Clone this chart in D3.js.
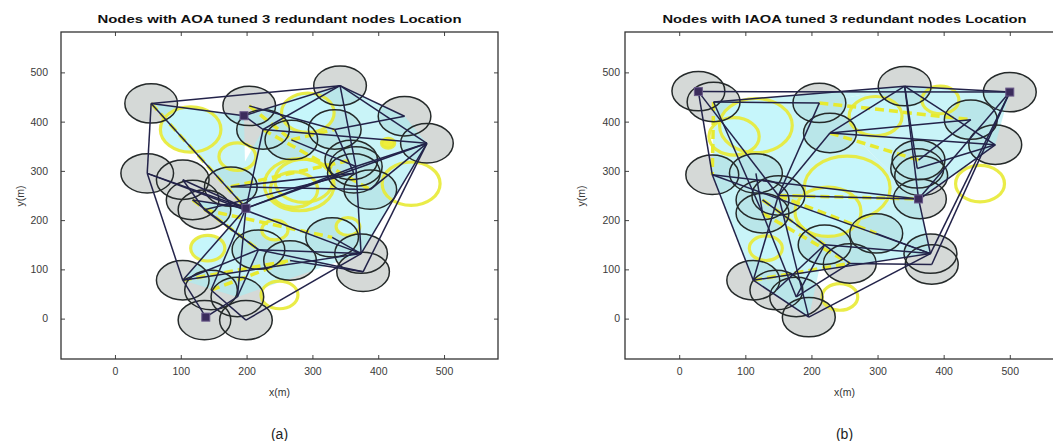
<!DOCTYPE html>
<html>
<head>
<meta charset="utf-8">
<script src="https://cdn.jsdelivr.net/npm/d3@7"></script>
<style>
  body { margin: 0; background: #fff; }
  text { font-family: "Liberation Sans", Arial, sans-serif; }
</style>
</head>
<body>
<svg id="viz" width="1053" height="441"></svg>
<script>
// axis setup (same for both panels)
const xDomain = [-82, 582], yDomain = [-82, 582];
const tickVals = [0, 100, 200, 300, 400, 500];
const sensorR = 40; // coverage radius in m

// ---------- panel (a): AOA ----------
const sensorsA = [
  [55, 437], [342, 473], [204, 432], [225, 384], [440, 411], [474, 356],
  [334, 384], [359, 322], [366, 309], [363, 295], [49, 295], [103, 282],
  [118, 241], [136, 221], [176, 268], [268, 363], [388, 262], [330, 165],
  [266, 118], [103, 78], [146, 58], [186, 44], [136, -3], [199, -3],
  [374, 132], [377, 95], [218, 140]
];
// anchors get indices 27, 28, 29
const anchorsA = [[196, 412], [199, 224], [138, 3]];
const edgesA = [
  [0, 1], [0, 10], [10, 19], [19, 29], [1, 5], [5, 24], [5, 25], [23, 24],
  [0, 28], [0, 27], [27, 1], [27, 3], [1, 3], [1, 8], [1, 4], [10, 28],
  [10, 24], [28, 5], [28, 8], [28, 21], [28, 19], [3, 5], [19, 24], [8, 24],
  [8, 5], [11, 28], [12, 26], [26, 24], [13, 26], [26, 25], [15, 8], [6, 4],
  [14, 9], [11, 13], [3, 28], [17, 24], [16, 5], [2, 6], [12, 28], [14, 16],
  [18, 25], [26, 21], [19, 26], [20, 28], [13, 9], [6, 9], [29, 21], [20, 23]
];
const cyanA = [
  [0, 27, 28], [27, 1, 3], [1, 8, 3], [3, 8, 28], [8, 5, 24], [28, 8, 24],
  [28, 24, 26], [12, 28, 26], [26, 21, 24], [1, 4, 5], [1, 5, 8], [19, 28, 26],
  [19, 26, 21], [14, 28, 3]
];
// redundant / hole circles: x, y, r
const yellowA = [
  [115, 384, 46], [293, 418, 40], [280, 272, 53], [287, 280, 44], [272, 262, 36],
  [450, 274, 44], [415, 356, 10], [250, 48, 28], [243, 180, 20], [141, 143, 26],
  [354, 187, 18], [186, 329, 28]
];
const yellowFillA = [1, 1, 1, 0, 0, 0, 2, 0, 1, 1, 1, 0];
const dashA = [[0, 28], [2, 15], [15, 6], [19, 18], [12, 26], [14, 7], [3, 16], [20, 18], [13, 17]];

// ---------- panel (b): IAOA ----------
const sensorsB = [
  [29, 462], [52, 440], [341, 472], [500, 460], [212, 438], [228, 377],
  [441, 404], [478, 353], [50, 292], [116, 295], [126, 241], [150, 250],
  [126, 214], [362, 322], [360, 305], [366, 290], [364, 243], [298, 173],
  [380, 132], [382, 110], [112, 78], [147, 58], [177, 44], [196, 3],
  [258, 112], [220, 150]
];
// anchors get indices 26, 27, 28
const anchorsB = [[29, 461], [500, 460], [362, 243]];
const edgesB = [
  [26, 27], [1, 2], [2, 27], [26, 8], [8, 20], [20, 23], [23, 18], [18, 27],
  [19, 27], [28, 27], [2, 28], [2, 5], [2, 7], [5, 7], [26, 11], [1, 12],
  [8, 18], [11, 28], [28, 18], [20, 18], [11, 20], [11, 23], [4, 11], [5, 11],
  [1, 4], [2, 14], [14, 7], [5, 6], [9, 12], [25, 18], [25, 22], [10, 24],
  [24, 19], [12, 22], [21, 25], [13, 6], [17, 18], [16, 7], [22, 24], [8, 28]
];
const cyanB = [
  [1, 4, 11], [1, 11, 8], [4, 2, 28], [4, 28, 11], [2, 7, 28], [11, 28, 18],
  [11, 18, 20], [20, 25, 23], [1, 2, 4], [2, 27, 7], [8, 11, 20]
];
const yellowB = [
  [254, 265, 65], [116, 392, 55], [83, 370, 38], [297, 411, 40], [225, 217, 50],
  [395, 444, 28], [455, 274, 37], [243, 44, 27], [131, 143, 25]
];
const yellowFillB = [1, 1, 0, 1, 1, 0, 0, 0, 1];
const dashB = [[1, 8], [11, 17], [20, 24], [5, 13], [10, 25], [12, 24], [4, 6], [11, 16]];

const panels = [
  { id: "a", title: "Nodes with AOA tuned 3 redundant nodes Location", left: 61, right: 498,
    sensors: sensorsA, anchors: anchorsA, edges: edgesA, cyan: cyanA,
    yellow: yellowA, yFill: yellowFillA, dash: dashA, yLabelX: 24, tickPad: 13 },
  { id: "b", title: "Nodes with IAOA tuned 3 redundant nodes Location", left: 625, right: 1064,
    sensors: sensorsB, anchors: anchorsB, edges: edgesB, cyan: cyanB,
    yellow: yellowB, yFill: yellowFillB, dash: dashB, yLabelX: 585, tickPad: 5 }
];

const plotTop = 32, plotBottom = 359;
const svg = d3.select("#viz");

panels.forEach(p => {
  const x = d3.scaleLinear().domain(xDomain).range([p.left, p.right]);
  const y = d3.scaleLinear().domain(yDomain).range([plotBottom, plotTop]);
  const pts = p.sensors.concat(p.anchors);
  const rx = x(sensorR) - x(0), ry = y(0) - y(sensorR);

  svg.append("clipPath").attr("id", "clip" + p.id)
    .append("rect").attr("x", p.left).attr("y", plotTop)
    .attr("width", p.right - p.left).attr("height", plotBottom - plotTop);

  const g = svg.append("g").attr("clip-path", `url(#clip${p.id})`);

  // gray coverage discs (group opacity so overlaps stay flat)
  g.append("g").attr("opacity", 0.36)
    .selectAll("ellipse").data(p.sensors).enter().append("ellipse")
    .attr("cx", d => x(d[0])).attr("cy", d => y(d[1]))
    .attr("rx", rx).attr("ry", ry)
    .attr("fill", "#8e9893");

  // cyan covered triangles
  g.append("g").attr("opacity", 0.62)
    .selectAll("polygon").data(p.cyan).enter().append("polygon")
    .attr("points", d => d.map(i => x(pts[i][0]) + "," + y(pts[i][1])).join(" "))
    .attr("fill", "#a9eef4");

  // yellow redundant circles
  g.selectAll(".yc").data(p.yellow).enter().append("ellipse")
    .attr("cx", d => x(d[0])).attr("cy", d => y(d[1]))
    .attr("rx", d => x(d[2]) - x(0)).attr("ry", d => y(0) - y(d[2]))
    .attr("fill", (d, i) => p.yFill[i] === 1 ? "#c6f6fb" : p.yFill[i] === 2 ? "#eeee3c" : "none")
    .attr("stroke", "#e8ea34").attr("stroke-width", 3.2).attr("stroke-opacity", 0.9);

  // yellow dashed links (drawn under the dark ones)
  g.selectAll(".yd").data(p.dash).enter().append("line")
    .attr("x1", d => x(pts[d[0]][0])).attr("y1", d => y(pts[d[0]][1]))
    .attr("x2", d => x(pts[d[1]][0])).attr("y2", d => y(pts[d[1]][1]))
    .attr("stroke", "#e6ea30").attr("stroke-width", 3.5).attr("stroke-dasharray", "9,5");

  // circle outlines
  g.selectAll(".ring").data(p.sensors).enter().append("ellipse")
    .attr("cx", d => x(d[0])).attr("cy", d => y(d[1]))
    .attr("rx", rx).attr("ry", ry)
    .attr("fill", "none").attr("stroke", "#252a2a").attr("stroke-width", 1.5);

  // links
  g.selectAll(".edge").data(p.edges).enter().append("line")
    .attr("x1", d => x(pts[d[0]][0])).attr("y1", d => y(pts[d[0]][1]))
    .attr("x2", d => x(pts[d[1]][0])).attr("y2", d => y(pts[d[1]][1]))
    .attr("stroke", "#23234a").attr("stroke-width", 1.5);

  // anchor squares
  g.selectAll(".anc").data(p.anchors).enter().append("rect")
    .attr("x", d => x(d[0]) - 4).attr("y", d => y(d[1]) - 4)
    .attr("width", 8).attr("height", 8)
    .attr("fill", "#3b2c5c").attr("stroke", "#6a5a8a").attr("stroke-width", 1);

  // axes, MATLAB-style box with inward ticks
  const fmt = d3.format("d");
  const ax = [
    svg.append("g").attr("transform", `translate(0,${plotBottom})`)
      .call(d3.axisBottom(x).tickValues(tickVals).tickSize(-4).tickPadding(9).tickFormat(fmt)),
    svg.append("g").attr("transform", `translate(0,${plotTop})`)
      .call(d3.axisTop(x).tickValues(tickVals).tickSize(-4).tickFormat("")),
    svg.append("g").attr("transform", `translate(${p.left},0)`)
      .call(d3.axisLeft(y).tickValues(tickVals).tickSize(-4).tickPadding(p.tickPad).tickFormat(fmt)),
    svg.append("g").attr("transform", `translate(${p.right},0)`)
      .call(d3.axisRight(y).tickValues(tickVals).tickSize(-4).tickFormat(""))
  ];
  ax.forEach(a => {
    a.select(".domain").remove();
    a.selectAll("line").attr("stroke", "#444");
    a.selectAll("text").attr("font-size", 10.5).attr("fill", "#3a3a3a")
      .style("font-family", "'Liberation Sans', Arial, sans-serif");
  });

  svg.append("rect").attr("x", p.left).attr("y", plotTop)
    .attr("width", p.right - p.left).attr("height", plotBottom - plotTop)
    .attr("fill", "none").attr("stroke", "#333").attr("stroke-width", 1.3);

  const cx = (p.left + p.right) / 2;
  svg.append("text").attr("x", cx).attr("y", 23).attr("text-anchor", "middle")
    .attr("font-size", 10.5).attr("font-weight", "bold").attr("fill", "#111")
    .attr("textLength", 364).attr("lengthAdjust", "spacingAndGlyphs")
    .text(p.title);

  svg.append("text").attr("x", cx).attr("y", 396).attr("text-anchor", "middle")
    .attr("font-size", 10.5).attr("fill", "#333").text("x(m)");

  svg.append("text").attr("transform", `translate(${p.yLabelX},196) rotate(-90)`)
    .attr("text-anchor", "middle").attr("font-size", 10.5).attr("fill", "#333").text("y(m)");

  svg.append("text").attr("x", cx).attr("y", 439).attr("text-anchor", "middle")
    .attr("font-size", 14).attr("fill", "#222").text("(" + p.id + ")");
});
</script>
</body>
</html>
